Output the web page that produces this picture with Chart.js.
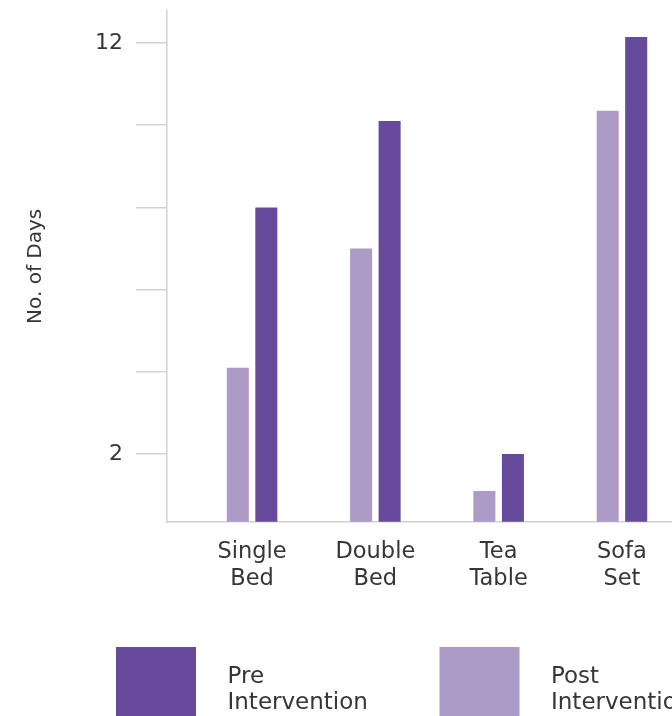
<!DOCTYPE html>
<html>
<head>
<meta charset="utf-8">
<title>No. of Days - Pre / Post Intervention</title>
<script src="https://cdn.jsdelivr.net/npm/chart.js@4.4.0/dist/chart.umd.min.js"></script>
<style>
  html, body { margin: 0; padding: 0; overflow: hidden; background: #fff; }
  #wrap { width: 672px; height: 716px; overflow: hidden; }
  canvas { display: block; }
</style>
</head>
<body>
<div id="wrap"><canvas id="chart" width="707" height="716"></canvas></div>
<script>
// data
const categories = [["Single", "Bed"], ["Double", "Bed"], ["Tea", "Table"], ["Sofa", "Set"]];
const seriesNames = ["Post Intervention", "Pre Intervention"];
const postValues = [4.1, 7, 1.1, 10.35];
const preValues = [8, 10.1, 2, 12.15];
const yTicks = [2, 4, 6, 8, 10, 12];
const yLabelled = [2, 12];

const FONT = "'DejaVu Sans', sans-serif";
const TEXT = "#363636";
const AXIS = "#d4d0d4";
const colors = { post: "#ad9bc7", pre: "#664a9c" };

// big square legend, Pre first then Post, labels broken onto two lines
const bigLegend = {
  id: "bigLegend",
  afterDraw(chart){
    const ctx = chart.ctx;
    const order = [1, 0];
    ctx.save();
    ctx.font = "23px " + FONT;
    ctx.textBaseline = "alphabetic";
    order.forEach((di, k) => {
      const ds = chart.data.datasets[di];
      const x = 116 + k * 323.5;
      ctx.fillStyle = ds.backgroundColor;
      ctx.fillRect(x, 647, 80, 80);
      ctx.fillStyle = TEXT;
      ds.label.split(" ").forEach((line, j) => {
        ctx.fillText(line, x + 111.5, 683 + j * 26.3);
      });
    });
    ctx.restore();
  }
};

const chart = new Chart(document.getElementById("chart").getContext("2d"), {
  type: "bar",
  data: {
    datasets: [
      {
        label: seriesNames[0],
        data: postValues.map((v, i) => ({ x: i, y: v })),
        backgroundColor: colors.post,
        borderWidth: 0
      },
      {
        label: seriesNames[1],
        data: preValues.map((v, i) => ({ x: i, y: v })),
        backgroundColor: colors.pre,
        borderWidth: 0
      }
    ]
  },
  options: {
    responsive: false,
    animation: false,
    devicePixelRatio: 1,
    layout: { padding: { top: 11, left: 0, right: 0, bottom: 119.3 } },
    datasets: { bar: { categoryPercentage: 0.4627, barPercentage: 0.772 } },
    plugins: { legend: { display: false }, tooltip: { enabled: false } },
    scales: {
      x: {
        type: "linear",
        min: -0.69,
        max: 3.69,
        offset: false,
        afterBuildTicks: s => { s.ticks = categories.map((_, i) => ({ value: i })); },
        afterFit: s => { s.height = 75; s.paddingLeft = 0; s.paddingRight = 0; },
        grid: { display: false, drawTicks: false },
        border: { display: true, color: AXIS, width: 1.5 },
        ticks: {
          autoSkip: false,
          maxRotation: 0,
          padding: 17,
          color: TEXT,
          font: { family: FONT, size: 22.5, lineHeight: 1.19 },
          callback: v => categories[v] || ""
        }
      },
      y: {
        min: 0.35,
        max: 12.78,
        afterBuildTicks: s => { s.ticks = yTicks.map(v => ({ value: v })); },
        afterFit: s => { s.width = 167; s.paddingTop = 0; s.paddingBottom = 0; },
        grid: { drawOnChartArea: false, drawTicks: true, tickLength: 31, color: AXIS, lineWidth: 1.5 },
        border: { display: true, color: AXIS, width: 1.5 },
        ticks: {
          padding: 13,
          color: TEXT,
          font: { family: FONT, size: 22 },
          callback: v => yLabelled.includes(v) ? v : ""
        },
        title: {
          display: true,
          text: "No. of Days",
          color: TEXT,
          font: { family: FONT, size: 20 },
          padding: { top: 24, bottom: 0 }
        }
      }
    }
  },
  plugins: [bigLegend]
});
</script>
</body>
</html>
